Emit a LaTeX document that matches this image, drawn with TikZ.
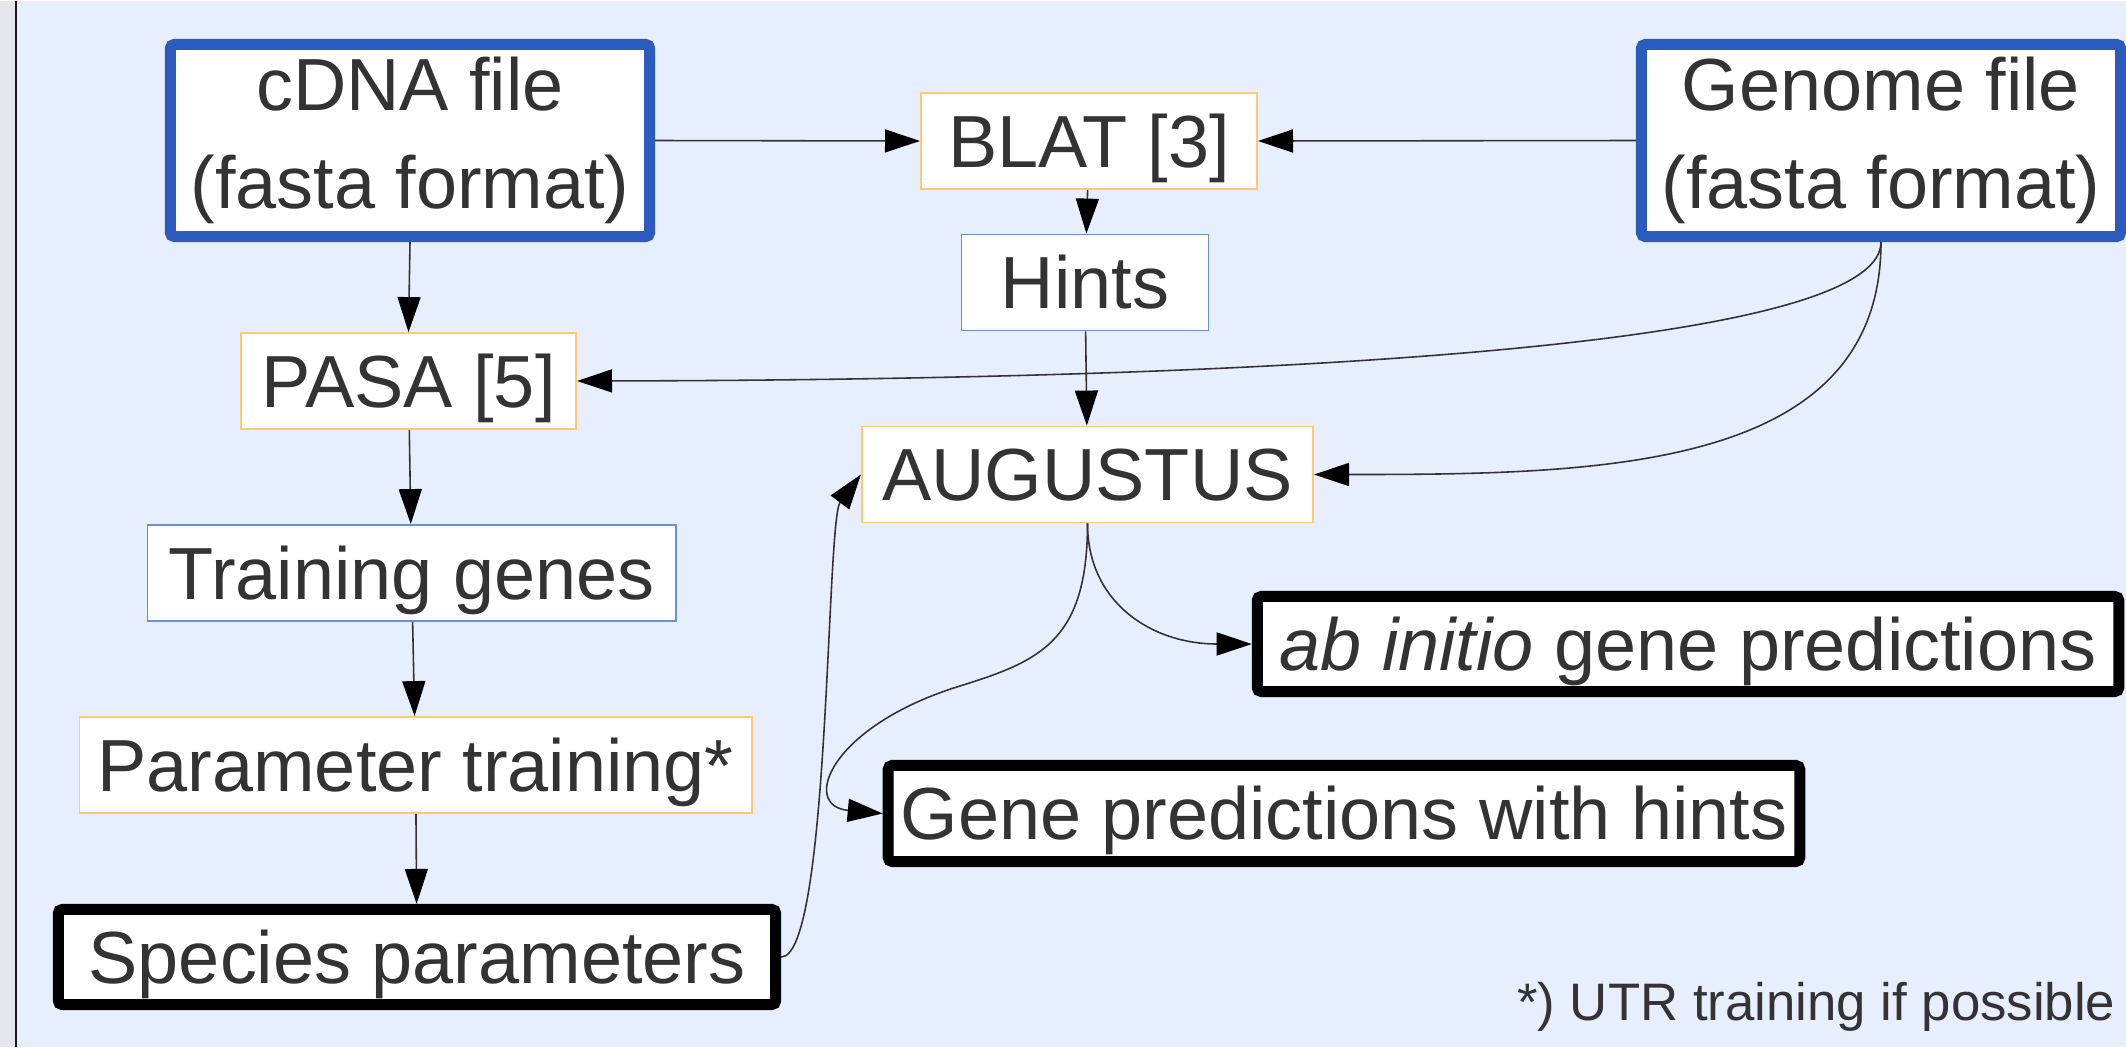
\documentclass[tikz,border=0pt]{standalone}
\usepackage{fontspec}
\setmainfont{Liberation Sans}
\usetikzlibrary{arrows.meta}

\definecolor{bgblue}{HTML}{E7EEFD}
\definecolor{stripgray}{HTML}{E3E7EB}
\definecolor{filebl}{HTML}{2C5BBE}
\definecolor{toolor}{HTML}{FFC970}
\definecolor{databl}{HTML}{6B8FDB}
\definecolor{txt}{HTML}{333333}

\begin{document}
\begin{tikzpicture}[
	x=0.01cm, y=-0.01cm,
	>={Triangle[length=0.35cm, width=0.23cm, color=black]},
	BoxBase/.style={fill=white, text=txt, inner sep=0pt,
		font=\fontsize{21pt}{27.9pt}\selectfont},
	OneLine/.style={text height=15pt, text depth=0pt},
	FileBox/.style={BoxBase, draw=filebl, line width=0.11cm, rounded corners=0.04cm,
		align=center, minimum width=4.79cm, minimum height=1.92cm},
	ResultBox/.style={BoxBase, OneLine, draw=black, line width=0.11cm,
		rounded corners=0.04cm, minimum height=0.95cm},
	ToolBox/.style={BoxBase, OneLine, draw=toolor, line width=0.5pt, minimum height=0.96cm},
	DataBox/.style={BoxBase, OneLine, draw=databl, line width=0.5pt, minimum height=0.96cm},
	Link/.style={->, draw=txt, line width=0.45pt},
	]
	% background and left strip
	\fill[bgblue] (0,0) rectangle (2126,1046);
	\fill[stripgray] (0,0) rectangle (15,1046);
	\draw[black!90, line width=0.02cm] (16,0) -- (16,1046);
	\useasboundingbox (0,0) rectangle (2126,1046);

	% input files
	\node [FileBox] (cdna) at (410,139.5) {cDNA file\\(fasta format)};
	\node [FileBox] (genome) at (1881,139.5) {Genome file\\(fasta format)};

	% tools and intermediate data
	\node [ToolBox, minimum width=3.36cm] (blat) at (1089,140) {BLAT [3]};
	\node [DataBox, minimum width=2.47cm] (hints) at (1085,281.5) {Hints};
	\node [ToolBox, minimum width=3.35cm] (pasa) at (408.5,380) {PASA [5]};
	\node [ToolBox, minimum width=4.51cm] (aug) at (1087.5,473.5) {AUGUSTUS};
	\node [DataBox, minimum width=5.28cm] (train) at (411.6,572) {Training genes};
	\node [ToolBox, minimum width=6.72cm] (param) at (415.6,764) {Parameter training*};

	% results
	\node [ResultBox, minimum width=7.17cm] (species) at (417,956) {Species parameters};
	\node [ResultBox, minimum width=8.61cm] (abinit) at (1688,643) {\textit{ab initio} gene predictions};
	\node [ResultBox, minimum width=9.11cm, minimum height=0.96cm] (withhints) at (1344,812.5)
		{Gene predictions with hints};

	\node [text=txt, font=\fontsize{15pt}{18pt}\selectfont, inner sep=0pt, anchor=base east]
		(note) at (2116,1019) {*) UTR training if possible};

	% connectors
	\draw [Link] (cdna.east) -- (blat.west);
	\draw [Link] (genome.west) -- (blat.east);
	\draw [Link] (blat) -- (hints);
	\draw [Link] (hints) -- (aug);
	\draw [Link] (cdna.south) -- (pasa.north);
	\draw [Link] (pasa) -- (train);
	\draw [Link] (train) -- (param);
	\draw [Link] (param) -- (species);

	\draw [Link] (genome.south) .. controls (1881,360) and (1100,379) .. (pasa.east);
	\draw [Link] (genome.south) .. controls (1881,470) and (1600,473.5) .. (aug.east);
	\draw [Link] (species.east) .. controls (830,956) and (826,520) .. (aug.west);
	\draw [Link] (aug.south) .. controls (1087.5,602) and (1152,643) .. (abinit.west);

	\coordinate (turn) at (960,685);
	\draw [Link] (aug.south) .. controls (1087.5,640) and (1040,660) .. (turn)
		.. controls (830,725) and (800,805) .. (withhints.west);
\end{tikzpicture}
\end{document}
